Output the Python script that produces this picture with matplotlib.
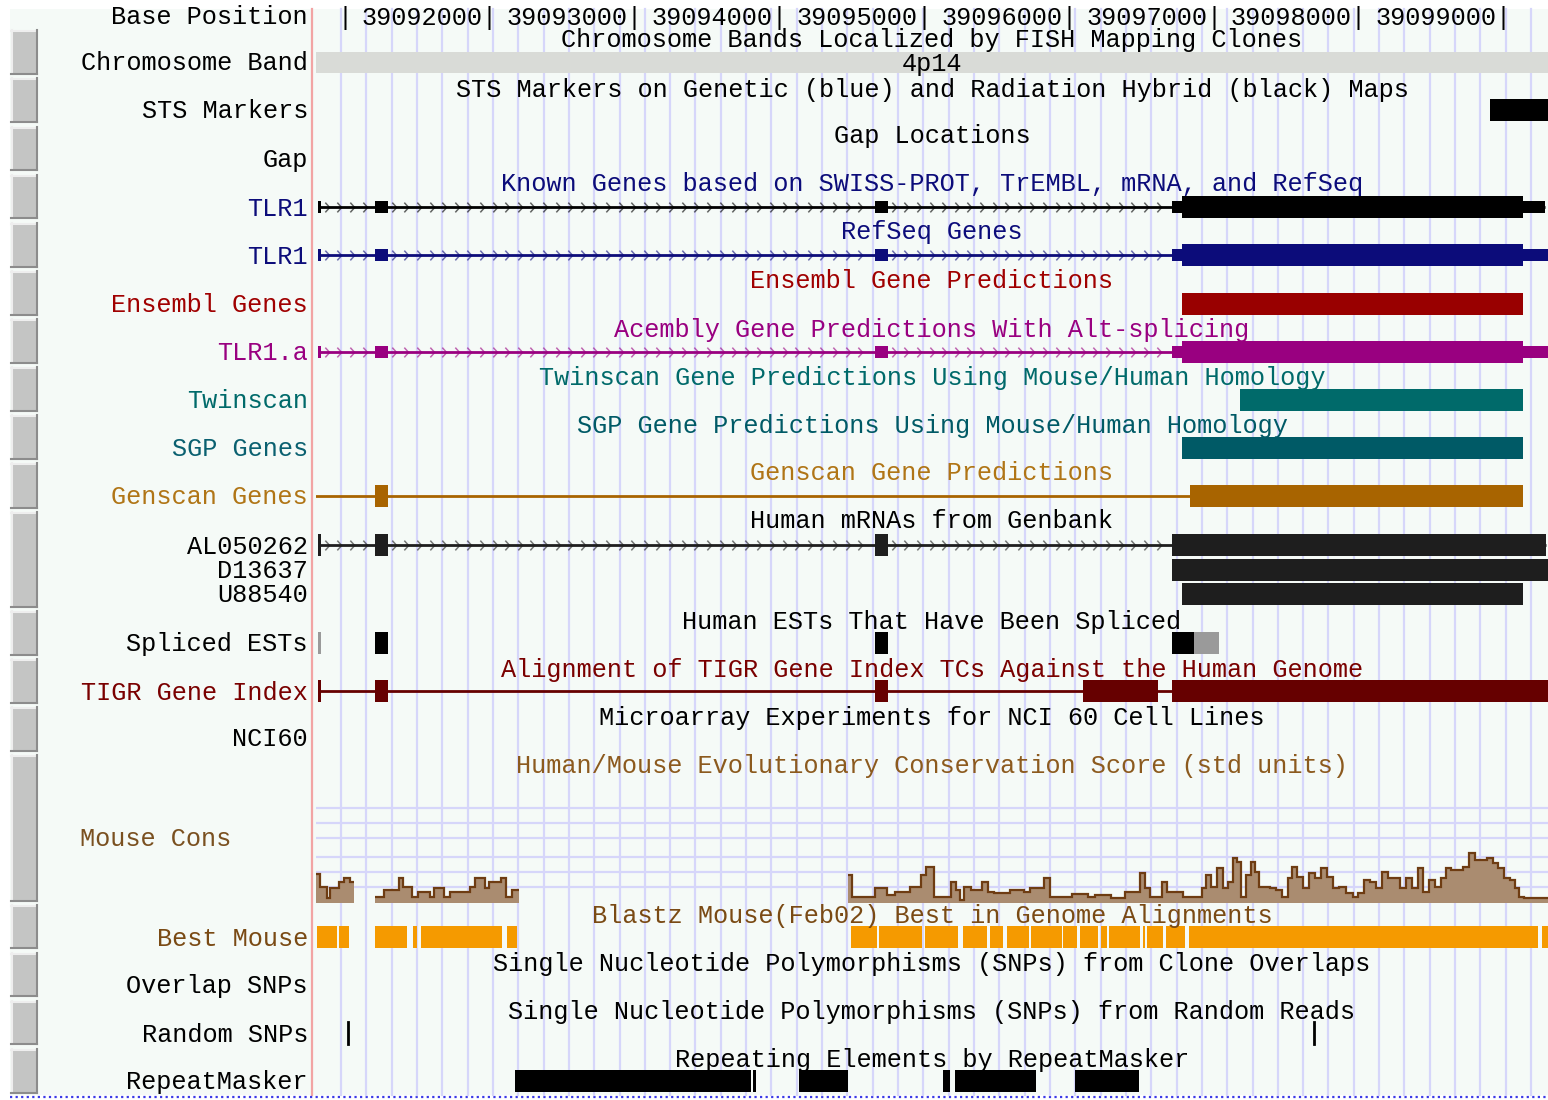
import matplotlib
matplotlib.use("Agg")
import matplotlib.pyplot as plt
import numpy as np
from matplotlib.patches import Rectangle
from matplotlib.path import Path
from matplotlib import transforms as mtrans

plt.rcParams['font.family'] = ['Liberation Mono', 'DejaVu Sans Mono']

# ---------------- data (genomic coordinates, chr4) ----------------
WIN_START, WIN_END = 39090800, 39099300
ruler_ticks = [39091000, 39092000, 39093000, 39094000, 39095000,
               39096000, 39097000, 39098000, 39099000]
chrom_band_name = "4p14"
sts_markers = [(39098900, 39099400)]

known_exons = [(39090813, 39090834), (39091206, 39091296), (39094657, 39094746), (39096706, 39099280)]
known_cds = (39096775, 39099128)
refseq_exons = [(39090813, 39090834), (39091206, 39091296), (39094657, 39094746), (39096706, 39099400)]
refseq_cds = (39096775, 39099128)
acembly_exons = [(39090813, 39090834), (39091206, 39091296), (39094657, 39094746), (39096706, 39099400)]
acembly_cds = (39096775, 39099128)
ensembl_exons = [(39096775, 39099128)]
twinscan_exons = [(39097175, 39099128)]
sgp_exons = [(39096775, 39099128)]
genscan_exons = [(39091206, 39091296), (39096830, 39099128)]
genscan_span = (39090500, 39096830)

mrna_names = ["AL050262", "D13637", "U88540"]
mrna_exons = [
    [(39090813, 39090834), (39091206, 39091296), (39094657, 39094746), (39096706, 39099287)],
    [(39096706, 39099400)],
    [(39096775, 39099128)],
]
est_black = [(39091206, 39091296), (39094657, 39094746), (39096706, 39096858)]
est_gray = [(39090813, 39090834), (39096858, 39097030)]
tigr_exons = [(39090813, 39090834), (39091206, 39091296), (39094657, 39094746),
              (39096092, 39096609), (39096706, 39099400)]

cons1_edges = [39090800, 39090827, 39090875, 39090896, 39090958, 39090993, 39091034, 39091062]
cons1_vals = [29, 16, 5, 15, 21, 25, 21]
cons2_edges = [39091206, 39091269, 39091372, 39091400, 39091462, 39091503, 39091586, 39091614,
               39091683, 39091724, 39091862, 39091897, 39091966, 39091993, 39092076, 39092110,
               39092152, 39092200]
cons2_vals = [6, 13, 25, 16, 6, 11, 6, 15, 6, 11, 16, 25, 15, 21, 25, 6, 13]
cons3_edges = [39094470, 39094498, 39094657, 39094739, 39094795, 39094898, 39094974, 39095008,
               39095064, 39095181, 39095215, 39095243, 39095271, 39095319, 39095395, 39095436,
               39095478, 39095588, 39095685, 39095726, 39095823, 39095864, 39096016, 39096126,
               39096175, 39096285, 39096382, 39096485, 39096520, 39096554, 39096637, 39096671,
               39096782, 39096913, 39096940, 39096975, 39097016, 39097058, 39097092, 39097127,
               39097154, 39097182, 39097216, 39097251, 39097279, 39097306, 39097382, 39097423,
               39097465, 39097506, 39097534, 39097568, 39097610, 39097651, 39097693, 39097734,
               39097775, 39097817, 39097858, 39097906, 39097955, 39097989, 39098031, 39098072,
               39098113, 39098155, 39098196, 39098279, 39098320, 39098362, 39098403, 39098438,
               39098479, 39098521, 39098562, 39098596, 39098631, 39098714, 39098755, 39098797,
               39098879, 39098921, 39098955, 39098997, 39099038, 39099073, 39099100, 39099135,
               39099300]
cons3_vals = [28, 6, 15, 8, 11, 16, 28, 36, 6, 21,
              13, 3, 16, 13, 21, 11, 10, 13, 11, 15,
              25, 6, 9, 6, 8, 5, 11, 30, 15, 6,
              21, 11, 6, 15, 28, 16, 35, 15, 21, 45,
              41, 6, 28, 41, 31, 16, 15, 13, 6, 25,
              36, 26, 15, 30, 25, 35, 26, 15, 16, 10,
              6, 10, 23, 21, 15, 31, 25, 15, 25, 15,
              35, 11, 23, 16, 25, 35, 33, 36, 50, 43,
              45, 40, 35, 25, 23, 15, 6, 5]

best_mouse = [(39090806, 39090944), (39090958, 39091027), (39091206, 39091427), (39091469, 39091496),
              (39091524, 39092083), (39092117, 39092186), (39094491, 39094670), (39094684, 39094981),
              (39095002, 39095229), (39095264, 39095429), (39095450, 39095540), (39095567, 39095719),
              (39095733, 39095947), (39095954, 39096050), (39096071, 39096195), (39096216, 39096257),
              (39096271, 39096485), (39096506, 39096520), (39096533, 39096644), (39096664, 39096796),
              (39096823, 39099231), (39099259, 39099400)]
random_snps = [39091020, 39097686]
repeats = [(39092172, 39093801), (39093815, 39093835), (39094132, 39094470),
           (39095126, 39095174), (39095209, 39095767), (39096037, 39096478)]

# ---------------- styling ----------------
W, H = 1548, 1100
BG = "#f5faf7"
GRID = "#d6d6fa"
FS = 18.2
TY = 1.5  # small downward text offset (pixels)
BLACK = "#000000"
NAVY = "#0c0c7a"
ENS = "#990000"
ACE = "#990080"
TWIN = "#006a6a"
SGP = "#005a66"
GENSCAN = "#a86400"
GENSCAN_TXT = "#b07516"
MRNA = "#1e1e1e"
TIGR = "#660000"
TIGR_TXT = "#7a0000"
BROWN = "#7a4a14"
CONS_FILL = "#aa8c70"
CONS_LINE = "#6e3c12"
ORANGE = "#f59a00"

fig = plt.figure(figsize=(W / 100, H / 100), dpi=100)
fig.patch.set_facecolor("white")

bg = fig.add_axes([0, 0, 1, 1])
bg.set_xlim(0, W)
bg.set_ylim(H, 0)
bg.axis("off")
bg.add_patch(Rectangle((10, 9), W - 10, 1086, facecolor=BG, edgecolor="none", zorder=0))

X0 = 316
ax = fig.add_axes([X0 / W, 0, (W - X0) / W, 1])
ax.set_xlim(WIN_START, WIN_END)
ax.set_ylim(H, 0)
ax.axis("off")
ax.patch.set_alpha(0)

bp_per_px = (WIN_END - WIN_START) / (W - X0)

# vertical guide lines
for gx in np.arange(WIN_START + 25 * bp_per_px, WIN_END, 25.32 * bp_per_px):
    ax.plot([gx, gx], [9, 1095], color=GRID, lw=1.6, zorder=1)

# red separator & bottom dotted line
bg.plot([312, 312], [9, 1095], color="#f2a4a4", lw=1.6, zorder=2)
bg.plot([10, W], [1097, 1097], color="#3a3ae6", lw=1.6, ls=(0, (1, 1.5)), zorder=2)

# side buttons
buttons = [(30, 74), (78, 122), (127, 170), (175, 218), (223, 267), (271, 315), (319, 363),
           (367, 411), (415, 459), (463, 508), (512, 607), (611, 655), (659, 703), (707, 751),
           (755, 901), (905, 948), (953, 996), (1001, 1044), (1049, 1093)]
for (b0, b1) in buttons:
    bg.add_patch(Rectangle((11, b0), 26, b1 - b0, facecolor="#c4c5c4", edgecolor="none", zorder=2))
    bg.plot([11, 37], [b0 + 1, b0 + 1], color="#eeeeee", lw=1.5, zorder=3)
    bg.plot([11.7, 11.7], [b0, b1], color="#eeeeee", lw=1.5, zorder=3)
    bg.plot([11, 37], [b1, b1], color="#8c8c8c", lw=1.5, zorder=3)
    bg.plot([37, 37], [b0, b1], color="#8c8c8c", lw=1.5, zorder=3)

XC = (WIN_START + WIN_END) / 2


def title(y, text, color=BLACK):
    ax.text(XC, y + TY, text, color=color, fontsize=FS, ha="center", va="center", zorder=6)


def label(y, text, color=BLACK, x=308, ha="right"):
    bg.text(x, y + TY, text, color=color, fontsize=FS, ha=ha, va="center", zorder=6)


chev = Path([(-0.45, 1.0), (0.45, 0.0), (-0.45, -1.0)], [Path.MOVETO, Path.LINETO, Path.LINETO])


def blocks(y, segs, color, half=11, z=4):
    for a, b in segs:
        ax.add_patch(Rectangle((a, y - half), b - a, 2 * half, facecolor=color,
                               edgecolor="none", zorder=z))


def gene(y, exons, color, cds=None, chevrons=True, span=None):
    s, e = span if span else (exons[0][0], exons[-1][1])
    ax.plot([s, e], [y, y], color=color, lw=2, solid_capstyle="butt", zorder=3)
    if chevrons:
        for (a0, a1), (b0, b1) in zip(exons[:-1], exons[1:]):
            xs = np.arange(a1 + 40, b0 - 25, 87)
            ax.plot(xs, np.full(len(xs), y), ls="none", marker=chev, ms=7, mew=1.1,
                    mec=color, mfc="none", alpha=0.6, zorder=3)
    for a, b in exons:
        if cds is None:
            blocks(y, [(a, b)], color)
        else:
            blocks(y, [(a, b)], color, half=6)
            ca, cb = max(a, cds[0]), min(b, cds[1])
            if ca < cb:
                blocks(y, [(ca, cb)], color)


# ruler
label(16, "Base Position")
off = mtrans.offset_copy(ax.transData, fig=fig, x=7.5, y=-TY, units="dots")
for i, t in enumerate(ruler_ticks):
    txt = "|" if i == 0 else f"{t}|"
    ax.text(t, 16, txt, transform=off, fontsize=FS, ha="right", va="center", zorder=6)

# chromosome band
title(39, "Chromosome Bands Localized by FISH Mapping Clones")
label(62, "Chromosome Band")
ax.add_patch(Rectangle((WIN_START, 52), WIN_END - WIN_START, 21, facecolor="#d9dbd7",
                       edgecolor="none", zorder=2))
ax.text(XC, 62 + TY, chrom_band_name, fontsize=FS, ha="center", va="center", zorder=6)

# STS
title(88, "STS Markers on Genetic (blue) and Radiation Hybrid (black) Maps")
label(110, "STS Markers")
blocks(110, sts_markers, BLACK)

# Gap
title(135, "Gap Locations")
label(158, "Gap")

# Known genes
title(183, "Known Genes based on SWISS-PROT, TrEMBL, mRNA, and RefSeq", NAVY)
label(207, "TLR1", NAVY)
gene(207, known_exons, BLACK, cds=known_cds)

# RefSeq
title(231, "RefSeq Genes", NAVY)
label(255, "TLR1", NAVY)
gene(255, refseq_exons, NAVY, cds=refseq_cds)

# Ensembl
title(280, "Ensembl Gene Predictions", "#a00000")
label(303, "Ensembl Genes", "#a00000")
blocks(304, ensembl_exons, ENS)

# Acembly
title(328, "Acembly Gene Predictions With Alt-splicing", ACE)
label(351, "TLR1.a", ACE)
gene(352, acembly_exons, ACE, cds=acembly_cds)

# Twinscan
title(376, "Twinscan Gene Predictions Using Mouse/Human Homology", TWIN)
label(399, "Twinscan", TWIN)
blocks(400, twinscan_exons, TWIN)

# SGP
title(424, "SGP Gene Predictions Using Mouse/Human Homology", SGP)
label(447, "SGP Genes", "#0a6070")
blocks(448, sgp_exons, SGP)

# Genscan
title(472, "Genscan Gene Predictions", GENSCAN_TXT)
label(495, "Genscan Genes", GENSCAN_TXT)
gene(496, genscan_exons, GENSCAN, chevrons=False, span=genscan_span)

# Human mRNAs
title(520, "Human mRNAs from Genbank")
mrna_y = [545, 570, 594]
for name, ex, yy in zip(mrna_names, mrna_exons, mrna_y):
    label(yy, name)
    if len(ex) > 1:
        gene(yy, ex, MRNA)
    else:
        blocks(yy, ex, MRNA)

# Spliced ESTs
title(620, "Human ESTs That Have Been Spliced")
label(643, "Spliced ESTs")
blocks(643, est_black, BLACK)
blocks(643, est_gray, "#9a9a9a")

# TIGR
title(668, "Alignment of TIGR Gene Index TCs Against the Human Genome", TIGR_TXT)
label(691, "TIGR Gene Index", TIGR_TXT)
gene(691, tigr_exons, TIGR, chevrons=False)

# NCI60
title(716, "Microarray Experiments for NCI 60 Cell Lines")
label(738, "NCI60")

# Mouse Cons
title(764, "Human/Mouse Evolutionary Conservation Score (std units)", "#8c5a1e")
label(838, "Mouse Cons", "#7a5020", x=80, ha="left")
for hy in [808, 823, 838, 857, 872, 887]:
    ax.plot([WIN_START, WIN_END], [hy, hy], color=GRID, lw=1.6, zorder=1)
axc = fig.add_axes([X0 / W, (H - 903) / H, (W - X0) / W, 103 / H])
axc.set_xlim(WIN_START, WIN_END)
axc.set_ylim(0, 103)
axc.axis("off")
axc.patch.set_alpha(0)
for ed, vals in [(cons1_edges, cons1_vals), (cons2_edges, cons2_vals), (cons3_edges, cons3_vals)]:
    axc.stairs(vals, ed, fill=True, color=CONS_FILL, baseline=0, zorder=2)
    axc.stairs(vals, ed, color=CONS_LINE, lw=1.6, baseline=None, zorder=3)

# Best mouse
title(914, "Blastz Mouse(Feb02) Best in Genome Alignments", BROWN)
label(937, "Best Mouse", BROWN)
blocks(937, best_mouse, ORANGE)

# SNPs
title(962, "Single Nucleotide Polymorphisms (SNPs) from Clone Overlaps")
label(985, "Overlap SNPs")
title(1010, "Single Nucleotide Polymorphisms (SNPs) from Random Reads")
label(1033, "Random SNPs")
for s in random_snps:
    ax.plot([s, s], [1022, 1044], color=BLACK, lw=2, zorder=4)

# RepeatMasker
title(1058, "Repeating Elements by RepeatMasker")
label(1081, "RepeatMasker")
blocks(1081, repeats, BLACK)

fig.savefig("out.png", dpi=100, facecolor="white")
